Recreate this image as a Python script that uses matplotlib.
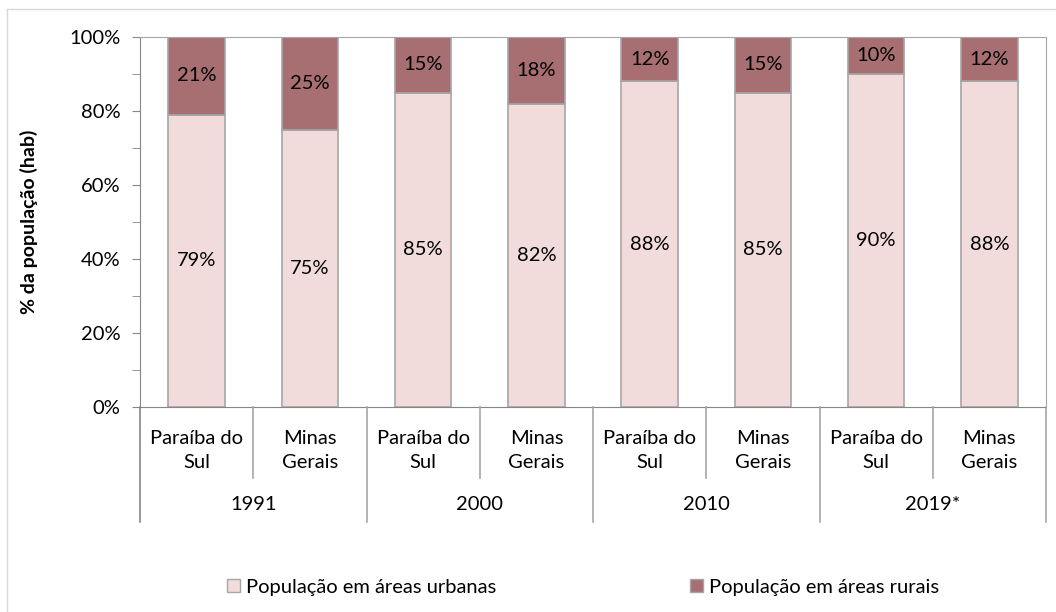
import matplotlib
matplotlib.use("Agg")
import matplotlib.pyplot as plt
from matplotlib.lines import Line2D
from matplotlib.patches import Rectangle

plt.rcParams['font.family'] = ['Lato', 'DejaVu Sans']

years = ["1991", "2000", "2010", "2019*"]
regions = ["Paraíba do\nSul", "Minas\nGerais"]
urbana = [79, 75, 85, 82, 88, 85, 90, 88]
rural = [21, 25, 15, 18, 12, 15, 10, 12]

c_urb = "#F2DCDB"
c_rur = "#A86F73"
edge = "#A6A6A6"
fs = 14.5

W, H = 1056, 612
fig = plt.figure(figsize=(W / 100, H / 100), dpi=100)
left, right, top, bottom = 140, 1046, 37, 407
ax = fig.add_axes([left / W, 1 - bottom / H, (right - left) / W, (bottom - top) / H])

x = list(range(len(urbana)))
ax.bar(x, urbana, width=0.5, color=c_urb, edgecolor=edge, linewidth=1.2)
ax.bar(x, rural, width=0.5, bottom=urbana, color=c_rur, edgecolor=edge, linewidth=1.2)

for i in x:
    ax.text(i, urbana[i] / 2, f"{urbana[i]}%", ha="center", va="center", fontsize=fs)
    ax.text(i, urbana[i] + rural[i] / 2, f"{rural[i]}%", ha="center", va="center", fontsize=fs)

ax.set_xlim(-0.5, len(urbana) - 0.5)
ax.set_ylim(0, 100)
ax.set_yticks(range(0, 101, 20))
ax.set_yticklabels([f"{v}%" for v in range(0, 101, 20)], fontsize=fs)
ax.set_yticks(range(10, 100, 20), minor=True)
ax.tick_params(axis="y", which="both", direction="out", length=6, color="#868686", pad=8)
ax.set_xticks([])
for s in ["top", "right"]:
    ax.spines[s].set_color(edge)
ax.spines["left"].set_color("#868686")
ax.spines["bottom"].set_color("#868686")
ax.set_ylabel("% da população (hab)", fontsize=14, fontweight="bold")
ax.yaxis.set_label_coords(-102 / (right - left), 0.5)

# category axis (two levels) drawn in figure pixel coords
def fx(px):
    return px / W

def fy(py):
    return 1 - py / H

step = (right - left) / len(urbana)
for k in range(len(urbana) + 1):
    xp = left + k * step
    if k % 2 == 0:
        yend = 522
        col = "#868686" if k == 0 else edge
    else:
        yend = 478
        col = edge
    fig.add_artist(Line2D([fx(xp), fx(xp)], [fy(bottom), fy(yend)], color=col, lw=1.2))

for k in range(len(urbana)):
    xc = left + (k + 0.5) * step
    fig.text(fx(xc), fy(450), regions[k % 2], ha="center", va="center",
             fontsize=fs, linespacing=1.5)

for g, yr in enumerate(years):
    xc = left + (2 * g + 1) * step
    fig.text(fx(xc), fy(505), yr, ha="center", va="center", fontsize=fs)

# legend
fig.legend(handles=[Rectangle((0, 0), 1, 1, facecolor=c_urb, edgecolor=edge),
                    Rectangle((0, 0), 1, 1, facecolor=c_rur, edgecolor=edge)],
           labels=["População em áreas urbanas", "População em áreas rurais"],
           loc="center", bbox_to_anchor=(fx(583), fy(587)), ncol=2, frameon=False,
           fontsize=fs, handlelength=0.65, handleheight=0.65, handletextpad=0.3,
           columnspacing=9.6)

# chart border (top and left edges visible)
fig.add_artist(Line2D([fx(7), fx(7)], [fy(9), 0], color="#D9D9D9", lw=1))
fig.add_artist(Line2D([fx(7), 1], [fy(9), fy(9)], color="#D9D9D9", lw=1))

fig.savefig("out.png", dpi=100)
